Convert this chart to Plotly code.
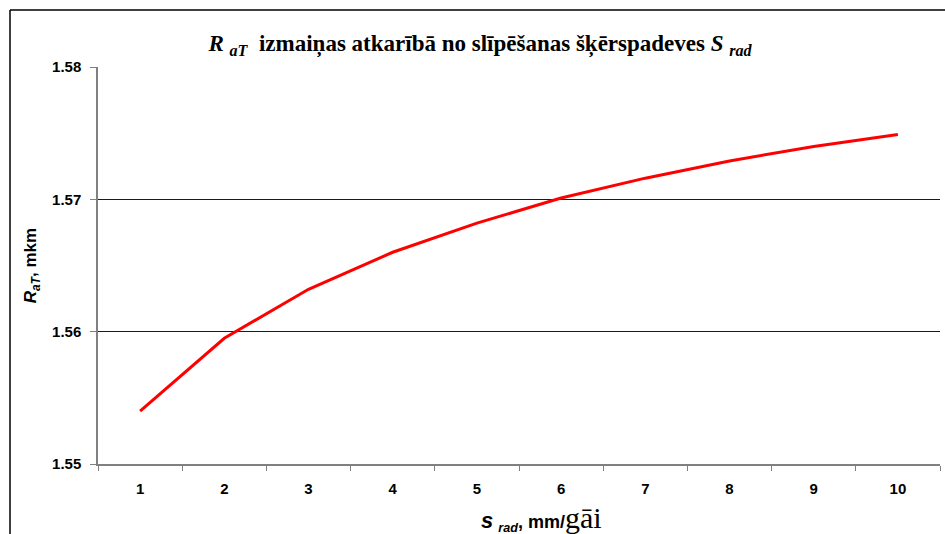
"""
R_aT vs radial feed chart using Plotly
"""

import plotly.graph_objects as go

# data
s_rad = ["1", "2", "3", "4", "5", "6", "7", "8", "9", "10"]
r_at = [1.5540, 1.5595, 1.5632, 1.5660, 1.5682, 1.5701, 1.5716, 1.5729, 1.5740, 1.5749]
y_ticks = [1.55, 1.56, 1.57, 1.58]

W, H = 945, 534
ML, MR, MT, MB = 98, 5, 67, 70
plot_w = W - ML - MR
plot_h = H - MT - MB

fig = go.Figure()

fig.add_trace(go.Scatter(
    x=s_rad,
    y=r_at,
    mode="lines",
    line=dict(color="#ff0000", width=3),
    hovertemplate="%{x}: %{y:.4f}<extra></extra>",
))

# outer chart frame (left + top edges visible in the reference)
fx = (10 - ML) / plot_w
fy = 1 + (MT - 10) / plot_h
fig.add_shape(type="line", xref="paper", yref="paper",
              x0=fx, x1=fx, y0=fy, y1=-0.3,
              line=dict(color="black", width=1.5))
fig.add_shape(type="line", xref="paper", yref="paper",
              x0=fx, x1=1.2, y0=fy, y1=fy,
              line=dict(color="black", width=1.5))

# x axis title as an annotation so it can sit right of centre like the original
fig.add_annotation(
    xref="paper", yref="paper",
    x=(541 - ML) / plot_w, y=-(518 - (MT + plot_h)) / plot_h,
    xanchor="center", yanchor="middle", showarrow=False,
    text="<span style='font-size:22px'><i>s</i></span> <sub><i>rad</i></sub>, mm/"
         "<span style='font-family:Times New Roman, Liberation Serif, serif;"
         "font-weight:normal;font-size:30px'>gāi</span>",
    font=dict(size=18, weight="bold"),
)

fig.update_layout(
    width=W,
    height=H,
    margin=dict(l=ML, r=MR, t=MT, b=MB),
    paper_bgcolor="white",
    plot_bgcolor="white",
    showlegend=False,
    font=dict(family="Arial, Liberation Sans, sans-serif", color="black", size=15),
    title=dict(
        text="<i>R</i> <sub><i>aT</i></sub>  izmaiņas atkarībā no slīpēšanas šķērspadeves <i>S</i> <sub><i>rad</i></sub>",
        font=dict(family="Times New Roman, Liberation Serif, serif", size=23, weight="bold"),
        x=0.508, xanchor="center",
        y=1 - 43 / H, yanchor="middle",
    ),
)

fig.update_xaxes(
    type="category",
    range=[-0.5, 9.5],
    tickson="boundaries",
    ticks="outside",
    ticklen=5,
    tickcolor="#808080",
    showline=True,
    linecolor="#808080",
    linewidth=1.5,
    showgrid=False,
    tickfont=dict(size=15, weight="bold"),
    ticklabelstandoff=10,
)

fig.update_yaxes(
    range=[1.55, 1.58],
    tickvals=y_ticks,
    tickformat=".2f",
    ticks="outside",
    ticklen=6,
    tickcolor="#808080",
    showline=True,
    linecolor="#808080",
    linewidth=1.5,
    showgrid=True,
    gridcolor="#1a1a1a",
    gridwidth=1,
    zeroline=False,
    tickfont=dict(size=15, weight="bold"),
    ticklabelstandoff=6,
    title=dict(
        text="<i>R</i><sub><i>aT</i></sub>, mkm",
        font=dict(size=17, weight="bold"),
        standoff=11,
    ),
)

# the page body has a default 8px margin; drop it so the figure sits at 0,0
fig.write_html("out.html", config={"displayModeBar": False},
               post_script="document.body.style.margin='0';")
